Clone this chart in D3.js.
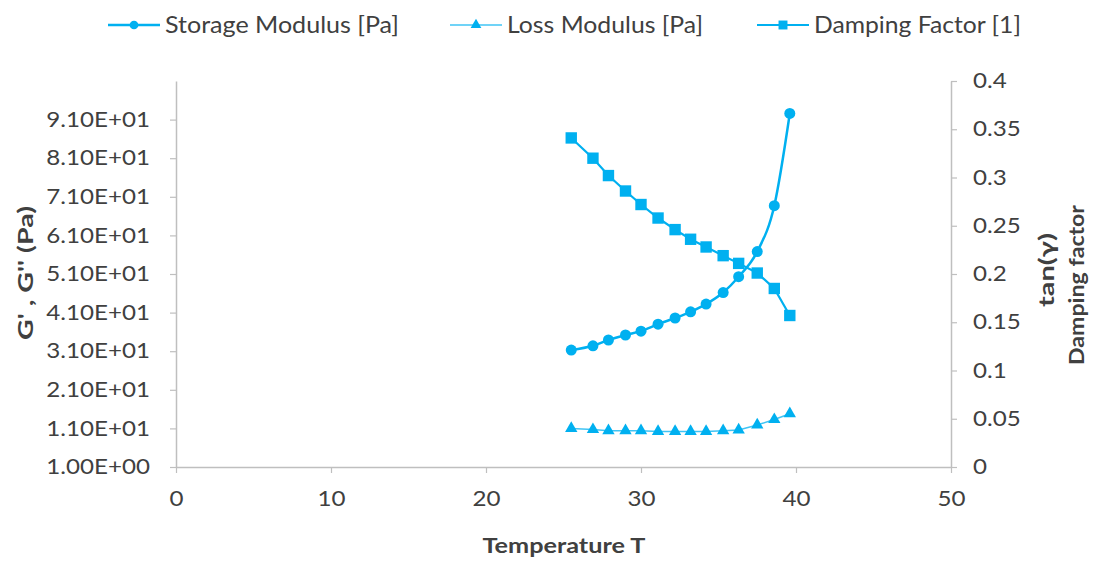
<!DOCTYPE html>
<html>
<head>
<meta charset="utf-8">
<script src="https://cdn.jsdelivr.net/npm/d3@7"></script>
<style>
  html, body { margin: 0; padding: 0; background: #fff; }
  svg { display: block; }
  text { font-family: Lato, "DejaVu Sans Condensed", sans-serif; fill: #404040; }
</style>
</head>
<body>
<svg id="chart" width="1096" height="561"></svg>
<script>
// Temperature sweep (°C)
const temperature = [25.5, 26.9, 27.9, 29.0, 30.0, 31.1, 32.2, 33.2, 34.2, 35.3, 36.3, 37.5, 38.6, 39.6];
// Storage modulus G' [Pa]
const storageModulus = [31.3, 32.4, 33.9, 35.2, 36.2, 38.0, 39.6, 41.2, 43.2, 46.2, 50.3, 56.8, 68.7, 92.6];
// Loss modulus G'' [Pa]
const lossModulus = [11.0, 10.7, 10.4, 10.4, 10.4, 10.2, 10.2, 10.2, 10.2, 10.4, 10.6, 11.9, 13.3, 14.8];
// Damping factor tan(δ)
const dampingFactor = [0.341, 0.320, 0.302, 0.286, 0.272, 0.258, 0.246, 0.236, 0.228, 0.219, 0.211, 0.201, 0.185, 0.157];

const xTicks = [0, 10, 20, 30, 40, 50];
const leftTicks = [1, 11, 21, 31, 41, 51, 61, 71, 81, 91];
const rightTicks = [0, 0.05, 0.1, 0.15, 0.2, 0.25, 0.3, 0.35, 0.4];

const BLUE = "#00b0f0";
const AXIS = "#bfbfbf";
const STRETCH = 1.15; // horizontal widening of the label glyphs

const plot = { left: 176, right: 951, top: 81, bottom: 467 };
const svg = d3.select("#chart");

const x = d3.scaleLinear().domain([0, 50]).range([plot.left, plot.right]);
const yL = d3.scaleLinear().domain([1, 101]).range([plot.bottom, plot.top]);
const yR = d3.scaleLinear().domain([0, 0.4]).range([plot.bottom, plot.top]);

// widen a text element's glyphs by a factor, keeping its anchor
function widen(sel, factor) {
  sel.each(function () {
    const w = this.getComputedTextLength();
    d3.select(this).attr("textLength", w * factor).attr("lengthAdjust", "spacingAndGlyphs");
  });
}
function fitLength(sel, len) {
  sel.attr("textLength", len).attr("lengthAdjust", "spacingAndGlyphs");
}

// Axes
function styleAxis(g) {
  g.selectAll(".domain").attr("stroke", AXIS).attr("stroke-width", 1.5);
  g.selectAll(".tick line").attr("stroke", AXIS).attr("stroke-width", 1.2);
  g.selectAll(".tick text").attr("fill", "#404040").style("font-size", "21px").call(widen, STRETCH);
}

svg.append("g")
  .attr("transform", `translate(0,${plot.bottom})`)
  .call(d3.axisBottom(x).tickValues(xTicks).tickSize(6).tickSizeOuter(0).tickPadding(18))
  .call(styleAxis);

svg.append("g")
  .attr("transform", `translate(${plot.left},0)`)
  .call(d3.axisLeft(yL).tickValues(leftTicks).tickSize(6).tickSizeOuter(0).tickPadding(20)
    .tickFormat(d => {
      const e = d.toExponential(2).toUpperCase().split("E");
      const exp = +e[1];
      return e[0] + "E" + (exp < 0 ? "-" : "+") + String(Math.abs(exp)).padStart(2, "0");
    }))
  .call(styleAxis);

svg.append("g")
  .attr("transform", `translate(${plot.right},0)`)
  .call(d3.axisRight(yR).tickValues(rightTicks).tickSize(6).tickSizeOuter(0).tickPadding(16)
    .tickFormat(d => d3.format("")(+d.toFixed(2))))
  .call(styleAxis);

// Axis titles
const titleStyle = sel => sel.attr("text-anchor", "middle")
  .style("font-size", "21px").style("font-weight", "bold").attr("fill", "#000");

svg.append("text")
  .attr("transform", `translate(33,273) rotate(-90)`)
  .call(titleStyle)
  .text("G' , G'' (Pa)")
  .call(fitLength, 134);

svg.append("text")
  .attr("transform", `translate(1054,270) rotate(-90)`)
  .call(titleStyle)
  .text("tan(γ)")
  .call(fitLength, 74);
svg.append("text")
  .attr("transform", `translate(1084,285) rotate(-90)`)
  .call(titleStyle)
  .text("Damping factor")
  .call(fitLength, 160);

svg.append("text")
  .attr("x", 564).attr("y", 553)
  .call(titleStyle)
  .text("Temperature T")
  .call(fitLength, 163);

// Series
const storage = temperature.map((t, i) => ({ t, v: storageModulus[i] }));
const loss = temperature.map((t, i) => ({ t, v: lossModulus[i] }));
const damping = temperature.map((t, i) => ({ t, v: dampingFactor[i] }));

const lineL = d3.line().x(d => x(d.t)).y(d => yL(d.v));
const lineR = d3.line().x(d => x(d.t)).y(d => yR(d.v));

svg.append("path").datum(loss)
  .attr("fill", "none").attr("stroke", BLUE).attr("stroke-width", 1.5).attr("stroke-opacity", 0.75)
  .attr("d", lineL);
svg.selectAll(".tri").data(loss).join("path")
  .attr("transform", d => `translate(${x(d.t)},${yL(d.v)})`)
  .attr("d", d3.symbol(d3.symbolTriangle, 66))
  .attr("fill", BLUE);

svg.append("path").datum(damping)
  .attr("fill", "none").attr("stroke", BLUE).attr("stroke-width", 2.2)
  .attr("d", lineR);
svg.selectAll(".sq").data(damping).join("path")
  .attr("transform", d => `translate(${x(d.t)},${yR(d.v)})`)
  .attr("d", d3.symbol(d3.symbolSquare, 130))
  .attr("fill", BLUE);

svg.append("path").datum(storage)
  .attr("fill", "none").attr("stroke", BLUE).attr("stroke-width", 2.5)
  .attr("d", lineL.curve(d3.curveMonotoneX));
svg.selectAll(".circ").data(storage).join("circle")
  .attr("cx", d => x(d.t)).attr("cy", d => yL(d.v)).attr("r", 5.5)
  .attr("fill", BLUE);

// Legend
const legendItems = [
  { label: "Storage Modulus [Pa]", x: 108, len: 234, marker: "circle", w: 2.5 },
  { label: "Loss Modulus [Pa]", x: 450, len: 196, marker: "triangle", w: 1.5 },
  { label: "Damping Factor [1]", x: 757, len: 207, marker: "square", w: 2.2 }
];
const lg = svg.append("g").selectAll("g").data(legendItems).join("g")
  .attr("transform", d => `translate(${d.x},25)`);
lg.append("line").attr("x1", 0).attr("x2", 52).attr("y1", 0).attr("y2", 0)
  .attr("stroke", BLUE).attr("stroke-width", d => d.w).attr("stroke-opacity", d => d.marker === "triangle" ? 0.75 : 1);
lg.append("path")
  .attr("transform", "translate(26,0)")
  .attr("d", d => d.marker === "circle" ? d3.symbol(d3.symbolCircle, 60)()
    : d.marker === "triangle" ? d3.symbol(d3.symbolTriangle, 50)()
    : d3.symbol(d3.symbolSquare, 80)())
  .attr("fill", BLUE);
lg.append("text").attr("x", 57).attr("y", 8)
  .style("font-size", "23px").attr("fill", "#262626")
  .text(d => d.label)
  .each(function (d) { d3.select(this).call(fitLength, d.len); });
</script>
</body>
</html>
